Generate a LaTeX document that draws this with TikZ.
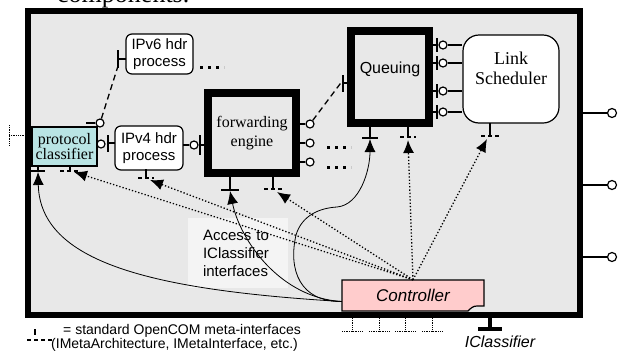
\documentclass[tikz,border=0pt]{standalone}
\usepackage{fontspec}
\setmainfont{Liberation Serif}
\setsansfont{Liberation Sans}
\usetikzlibrary{shapes, calc, arrows.meta, positioning}

\definecolor{routergray}{RGB}{232,232,232}
\definecolor{classcyan}{RGB}{185,228,228}
\definecolor{ctrlpink}{RGB}{255,204,204}
\definecolor{notegray}{RGB}{244,244,244}

\tikzset{
  comp/.style={draw, line width=1.2pt, fill=white, rounded corners=6pt, inner sep=0pt, align=center, font=\sffamily\fontsize{15}{17}\selectfont},
  heavy/.style={draw, line width=8pt, fill=routergray, inner sep=0pt, align=center},
  plug/.style={circle, draw, line width=1.2pt, fill=white, inner sep=0pt, minimum size=8pt},
  bar/.style={line width=1.3pt},
  metabar/.style={line width=1.3pt, dash pattern=on 4pt off 3pt},
  bind/.style={line width=1.3pt, dash pattern=on 6pt off 4pt},
  ctlline/.style={->, line width=0.8pt},
  metaline/.style={->, line width=1.3pt, dotted},
  moredots/.style={line width=3pt, dash pattern=on 3pt off 5pt},
}

\begin{document}
\begin{tikzpicture}[x=1pt, y=-1pt, >={Latex[length=13pt,width=11pt]}]
    \useasboundingbox (0,0) rectangle (618,354);

    \node[draw, line width=6pt, fill=routergray, minimum width=552pt, minimum height=304pt, inner sep=0pt] (router) at (304,163) {};
    \node[anchor=base west, inner sep=0pt, font=\fontsize{26}{30}\selectfont] (caption) at (57,2) {components.};

    % components
    \node[comp, minimum width=67pt, minimum height=40pt] (v6) at (159.5,54) {IPv6 hdr\\process};
    \node[comp, minimum width=68pt, minimum height=44pt] (v4) at (149,148) {IPv4 hdr\\process};
    \node[draw, line width=1.2pt, fill=classcyan, minimum width=65pt, minimum height=39pt, inner sep=0pt, align=center, font=\fontsize{16}{15}\selectfont] (pc) at (64.5,146.5) {protocol\\classifier};
    \node[heavy, minimum width=88pt, minimum height=80pt, font=\fontsize{16}{19}\selectfont] (fwd) at (252,133) {forwarding\\engine};
    \node[heavy, minimum width=78pt, minimum height=92pt] (q) at (390,77) {};
    \node[font=\sffamily\fontsize{16}{19}\selectfont] (q-text) at ([yshift=8pt]q.center) {Queuing};
    \node[draw, line width=1.2pt, fill=white, rounded corners=16pt, minimum width=96pt, minimum height=88pt] (sched) at (511,79) {};
    \node[align=center, font=\fontsize{18}{20}\selectfont] (sched-text) at ([yshift=11pt]sched.center) {Link\\Scheduler};
    \node[fill=notegray, minimum width=100pt, minimum height=70pt, text width=70pt, align=left, inner sep=0pt, font=\sffamily\fontsize{15}{18}\selectfont] (note) at (238,253) {Access to\\IClassifier\\interfaces};

    % interface points
    \coordinate (pc-ctl) at (38,172);
    \coordinate (fwd-ctl) at (230,191);
    \coordinate (q-ctl) at (370,139);
    \coordinate (pc-meta) at (74,172);
    \coordinate (v4-meta) at (150,180);
    \coordinate (fwd-meta) at (277,192);
    \coordinate (q-meta) at (408,140);
    \coordinate (sched-meta) at (487,139);
    \coordinate (v6-in) at (118,66);
    \coordinate (q-in) at (343,80);

    % receptacles
    \draw[bar] (118,50) -- (118,68) (118,59) -- (126,59);
    \draw[bar] (108,135) -- (108,152) (108,143) -- (115,143);
    \draw[bar] (200,135) -- (200,155) (200,145) -- (204,145);
    \draw[bar] (343,75) -- (343,92) (343,83) -- (347,83);
    \foreach \y in {45,63,91,112} {
        \draw[bar] (437,\y-7) -- (437,\y+7) (433,\y) -- (437,\y);
    }
    \draw[bar] (38,166) -- (38,171) (31,171) -- (45,171);
    \draw[bar] (230,177) -- (230,190) (221,190) -- (239,190);
    \draw[bar] (370,127) -- (370,138) (362,138) -- (378,138);

    % meta-interfaces
    \draw[bar] (70,166) -- (70,171) (146,169) -- (146,177) (273,177) -- (273,188) (408,127) -- (408,136) (490,123) -- (490,135);
    \draw[metabar] (60,171) -- (80,171) (138,178) -- (154,178) (264,189) -- (282,189) (400,137) -- (416,137) (481,136) -- (499,136);

    % plugs
    \node[plug] (pc-p1) at (100,123) {};
    \node[plug] (pc-p2) at (101,144) {};
    \node[plug] (v4-p) at (194,145) {};
    \draw[bar] (pc-p1.west) -- ++(-9,0);
    \draw[bar] (183,145) -- (v4-p.west);
    \foreach \y [count=\i] in {124,143,162} {
        \node[plug] (fwd-p\i) at (310,\y) {};
        \draw[bar] (300,\y) -- (fwd-p\i.west);
    }
    \foreach \y [count=\i] in {45,63,91,112} {
        \node[plug] (sched-p\i) at (443,\y) {};
        \draw[bar] (sched-p\i.east) -- (462,\y);
    }
    \foreach \y [count=\i] in {113,185,257} {
        \node[plug, minimum size=9pt] (out\i) at (612,\y) {};
        \draw[bar] (583,\y) -- (out\i.west);
    }

    \draw[bind] (pc-p1) -- (v6-in);
    \draw[bind] (fwd-p1) -- (q-in);
    \draw[densely dotted, line width=0.8pt] (9,125) -- (9,145) (9,135) -- (32,135);
    \draw[moredots] (200,67) -- (224,67);
    \draw[moredots] (327,147) -- (351,147) (327,167) -- (351,167);

    % controller
    \filldraw[fill=ctrlpink, line width=1.2pt] (342,311) -- (342,280) -- (484,280) -- (484,306) -- (477,306) .. controls (473,306) and (471,308) .. (468,311) -- cycle;
    \node[minimum width=142pt, minimum height=31pt, inner sep=0pt, font=\sffamily\itshape\fontsize{17}{20}\selectfont] (ctrl) at (413,295.5) {Controller};
    \foreach \x in {352,379,405,432} {
        \draw[densely dotted, line width=0.8pt] (\x,318) -- (\x,331) (\x-10,331) -- (\x+11,331);
    }
    \draw[line width=3.5pt] (490,318) -- (490,328);
    \draw[line width=4pt] (478,329) -- (502,329);
    \node[anchor=base, inner sep=0pt, font=\sffamily\itshape\fontsize{16}{18}\selectfont] (iclass) at (500,347) {IClassifier};

    \draw[ctlline] ([yshift=-6pt]ctrl.west) .. controls (150,290) and (40,262) .. (pc-ctl);
    \draw[ctlline] ([yshift=-6pt]ctrl.west) .. controls (280,298) and (240,240) .. (fwd-ctl);
    \draw[ctlline] ([yshift=-6pt]ctrl.west) .. controls (300,302) and (288,270) .. (296,235) .. controls (302,215) and (320,208) .. (337,207) .. controls (360,205) and (370,170) .. (q-ctl);
    \foreach \m in {pc-meta, v4-meta, fwd-meta, q-meta, sched-meta} {
        \draw[metaline] (ctrl.north) -- (\m);
    }

    % legend
    \draw[line width=1.5pt] (35,329) -- (35,335);
    \draw[metabar] (27,340) -- (52,340);
    \node[anchor=base west, inner sep=0pt, font=\sffamily\fontsize{14}{16}\selectfont] (legend1) at (63,334) {= standard OpenCOM meta-interfaces};
    \node[anchor=base west, inner sep=0pt, font=\sffamily\fontsize{14}{16}\selectfont] (legend2) at (51,348) {(IMetaArchitecture, IMetaInterface, etc.)};
\end{tikzpicture}
\end{document}
